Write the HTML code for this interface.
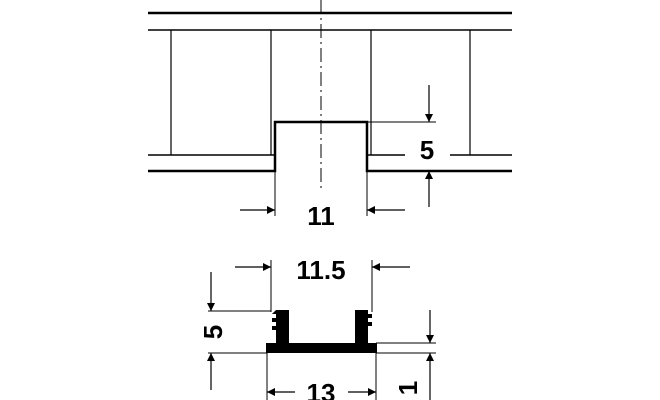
<!DOCTYPE html><html><head><style>body{margin:0;background:#fff}svg{display:block}</style></head><body>
<svg width="660" height="400" viewBox="0 0 660 400" xmlns="http://www.w3.org/2000/svg">
<defs><marker id="a" viewBox="0 0 10 10" refX="10" refY="5" markerWidth="15" markerHeight="8" markerUnits="userSpaceOnUse" orient="auto"><path d="M0,0L10,5L0,10z" fill="#000"/></marker></defs>
<g stroke="#000" fill="none">
<line x1="148" y1="13" x2="512" y2="13" stroke-width="2.5"/>
<line x1="148" y1="30" x2="512" y2="30" stroke-width="1.5"/>
<line x1="171" y1="30" x2="171" y2="155" stroke-width="1.2"/>
<line x1="271" y1="30" x2="271" y2="155" stroke-width="1.2"/>
<line x1="371" y1="30" x2="371" y2="155" stroke-width="1.2"/>
<line x1="470" y1="30" x2="470" y2="155" stroke-width="1.2"/>
<line x1="148" y1="155" x2="275" y2="155" stroke-width="1.5"/>
<line x1="367" y1="155" x2="405" y2="155" stroke-width="1.5"/>
<line x1="450" y1="155" x2="512" y2="155" stroke-width="1.5"/>
<path d="M148,171H275V122H367V171H512" stroke-width="2.5"/>
<line x1="321" y1="0" x2="321" y2="190" stroke-width="1" stroke-dasharray="14,4,2,4"/>
<line x1="367" y1="122" x2="436" y2="122" stroke-width="1"/>
<line x1="429" y1="85" x2="429" y2="122" stroke-width="1.2" marker-end="url(#a)"/>
<line x1="429" y1="207" x2="429" y2="171" stroke-width="1.2" marker-end="url(#a)"/>
<line x1="275" y1="171" x2="275" y2="216" stroke-width="1"/>
<line x1="367" y1="171" x2="367" y2="216" stroke-width="1"/>
<line x1="240" y1="210" x2="275" y2="210" stroke-width="1.2" marker-end="url(#a)"/>
<line x1="405" y1="210" x2="367" y2="210" stroke-width="1.2" marker-end="url(#a)"/>
<line x1="271" y1="260" x2="271" y2="312" stroke-width="1"/>
<line x1="372" y1="260" x2="372" y2="312" stroke-width="1"/>
<line x1="235" y1="267" x2="271" y2="267" stroke-width="1.2" marker-end="url(#a)"/>
<line x1="410" y1="267" x2="372" y2="267" stroke-width="1.2" marker-end="url(#a)"/>
<line x1="208" y1="311" x2="271" y2="311" stroke-width="1"/>
<line x1="208" y1="353" x2="267" y2="353" stroke-width="1"/>
<line x1="211" y1="272" x2="211" y2="311" stroke-width="1.2" marker-end="url(#a)"/>
<line x1="211" y1="390" x2="211" y2="353" stroke-width="1.2" marker-end="url(#a)"/>
<line x1="376" y1="343" x2="436" y2="343" stroke-width="1"/>
<line x1="376" y1="353" x2="436" y2="353" stroke-width="1"/>
<line x1="430" y1="310" x2="430" y2="343" stroke-width="1.2" marker-end="url(#a)"/>
<line x1="430" y1="400" x2="430" y2="353" stroke-width="1.2" marker-end="url(#a)"/>
<line x1="267" y1="353" x2="267" y2="400" stroke-width="1"/>
<line x1="376" y1="353" x2="376" y2="400" stroke-width="1"/>
<line x1="295" y1="392" x2="267" y2="392" stroke-width="1.2" marker-end="url(#a)"/>
<line x1="348" y1="392" x2="376" y2="392" stroke-width="1.2" marker-end="url(#a)"/>
</g>
<g fill="#000">
<rect x="266" y="343" width="111" height="10"/>
<path d="M276,310H289V343H276V330H272V326H276V322H272V318H276V314H272Z"/>
<path d="M355,310H368V314H372V318H368V322H372V326H368V330H368V343H355Z"/>
</g>
<g font-family="Liberation Sans,sans-serif" font-weight="bold" font-size="26" text-anchor="middle" fill="#000">
<text x="427" y="159">5</text>
<text x="321" y="225">11</text>
<text x="321" y="279">11.5</text>
<text x="321" y="402">13</text>
<text transform="translate(222,332) rotate(-90)" x="0" y="0">5</text>
<text transform="translate(417,388) rotate(-90)" x="0" y="0">1</text>
</g>
</svg></body></html>
